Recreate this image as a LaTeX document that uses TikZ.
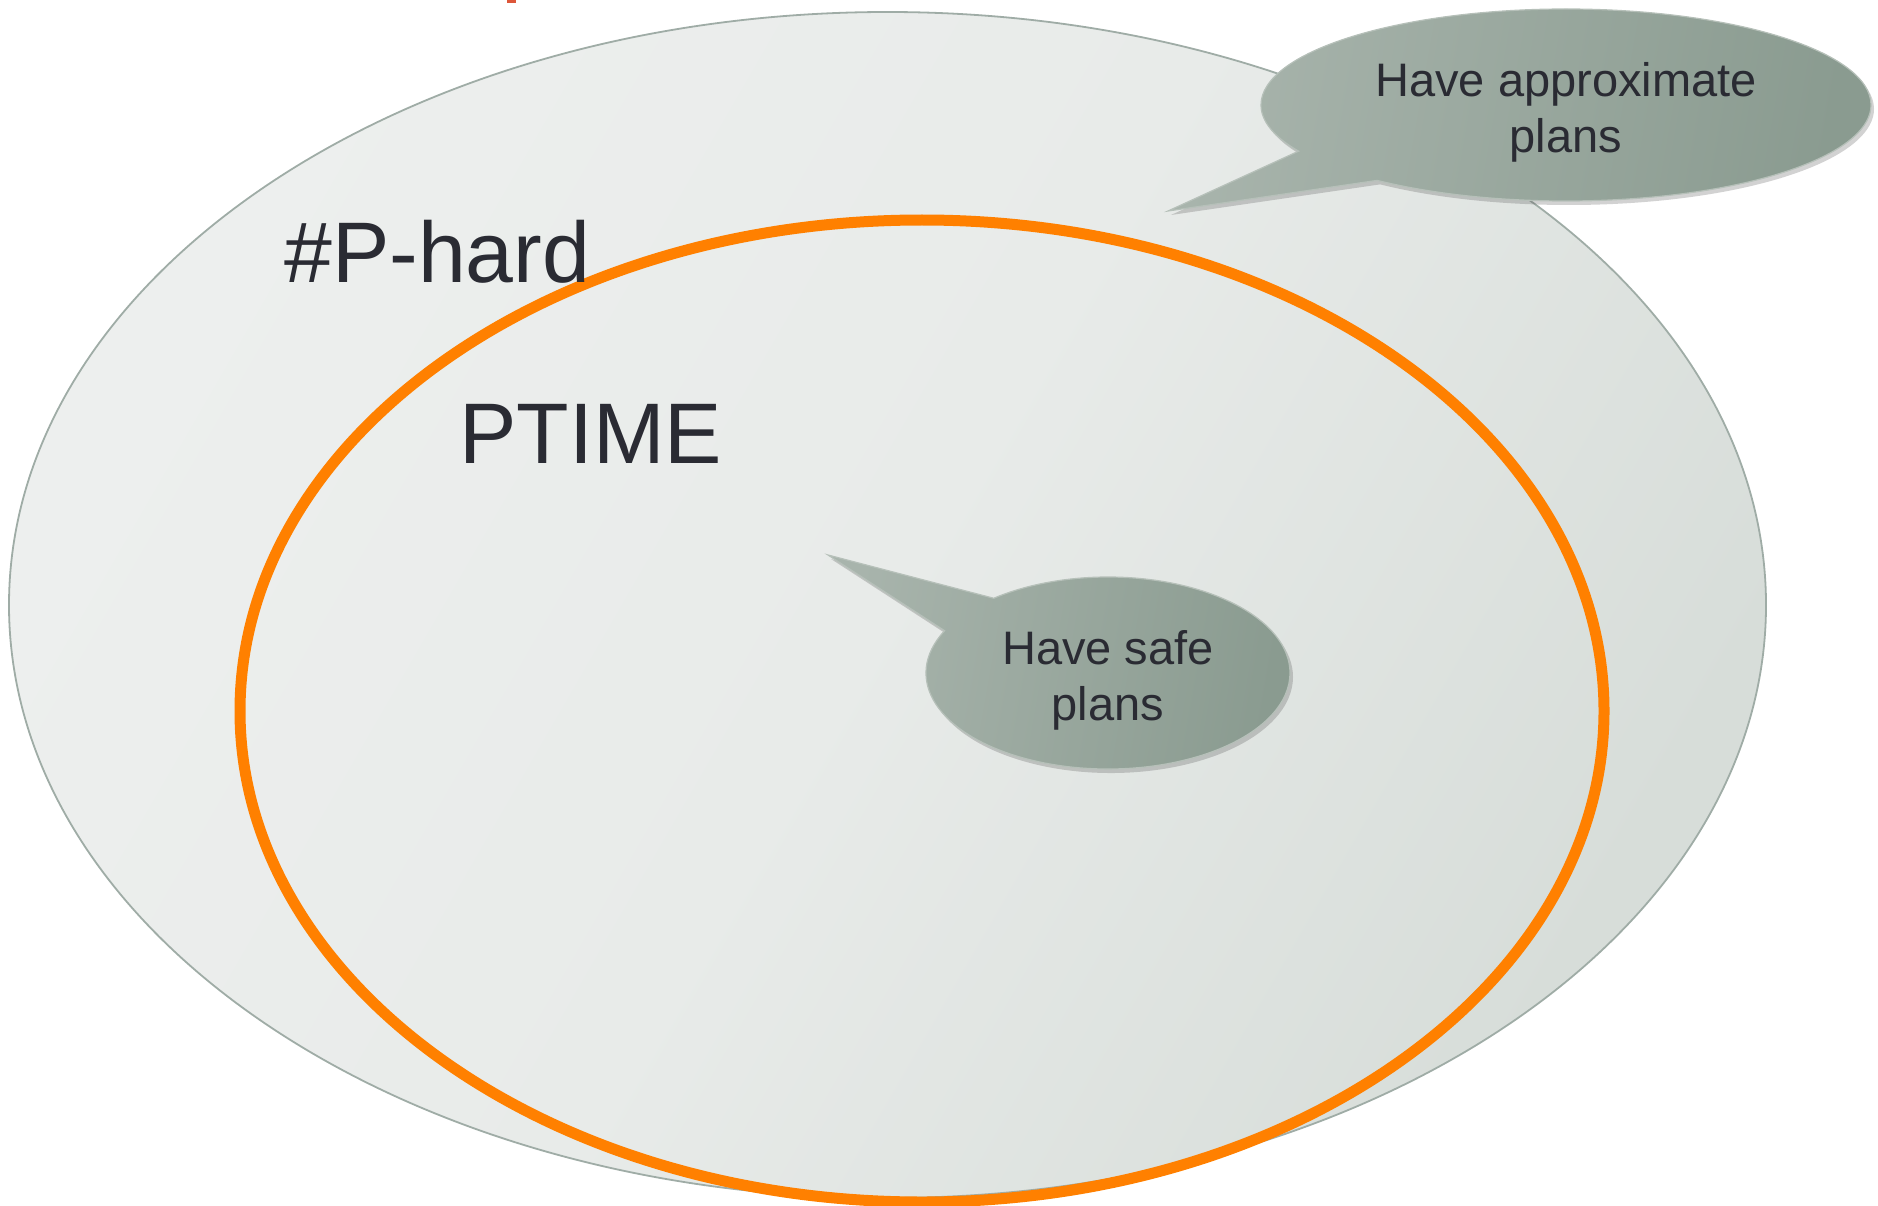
\documentclass[tikz,border=0pt]{standalone}
\usepackage{fontspec}
\setmainfont{Liberation Sans}
\usetikzlibrary{shapes.geometric,shapes.callouts,shadows}
\definecolor{outerline}{HTML}{9FACA6}
\definecolor{outerlight}{HTML}{EDEFEE}
\definecolor{outermid}{HTML}{E8EBE9}
\definecolor{outerdark}{HTML}{D7DDD9}
\definecolor{ptimeorange}{HTML}{FF8000}
\definecolor{calllight}{HTML}{A8B4AC}
\definecolor{calldark}{HTML}{8A9B90}
\definecolor{callborder}{HTML}{B6C0B9}
\definecolor{labeltext}{HTML}{2A2B33}
\definecolor{redmark}{HTML}{DD5639}
\tikzset{
  classset/.style={ellipse, inner sep=0pt},
  bubble/.style={ellipse callout, inner sep=0pt, align=center,
    font=\fontsize{47}{56}\selectfont, text=labeltext,
    draw=callborder, line width=1.2pt,
    left color=calllight, right color=calldark, shading angle=80,
    drop shadow={shadow xshift=3pt, shadow yshift=-4pt, opacity=0.25, fill=black!70}},
  biglabel/.style={anchor=base west, inner sep=0pt, text=labeltext,
    font=\fontsize{86}{86}\selectfont}
}
\begin{document}
\begin{tikzpicture}[x=1pt,y=-1pt]
\useasboundingbox (0,0) rectangle (1878,1206);
\fill[redmark] (507,0) rectangle (516,3);
\node[classset, minimum width=1757pt, minimum height=1186pt,
      draw=outerline, line width=1.8pt,
      left color=outerlight, right color=outerdark, middle color=outermid,
      shading angle=60] (hard) at (887.5,605) {};
\node[classset, minimum width=1364pt, minimum height=982pt,
      draw=ptimeorange, line width=11pt] (ptime) at (922,711) {};
\node[biglabel] (hardlabel) at (284,283) {\#P-hard};
\node[biglabel] (ptimelabel) at (459,463) {PTIME};
\coordinate (tipapprox) at (1168,211);
\coordinate (tipsafe) at (828,555);
\node[bubble, minimum width=610pt, minimum height=192pt,
      callout absolute pointer={(tipapprox)}, callout pointer arc=23]
      (approx) at (1566,105) {\rule{0pt}{48pt}Have approximate\\plans};
\node[bubble, minimum width=364pt, minimum height=192pt,
      callout absolute pointer={(tipsafe)}, callout pointer arc=25]
      (safe) at (1108,673) {\rule{0pt}{48pt}Have safe\\plans};
\end{tikzpicture}
\end{document}
